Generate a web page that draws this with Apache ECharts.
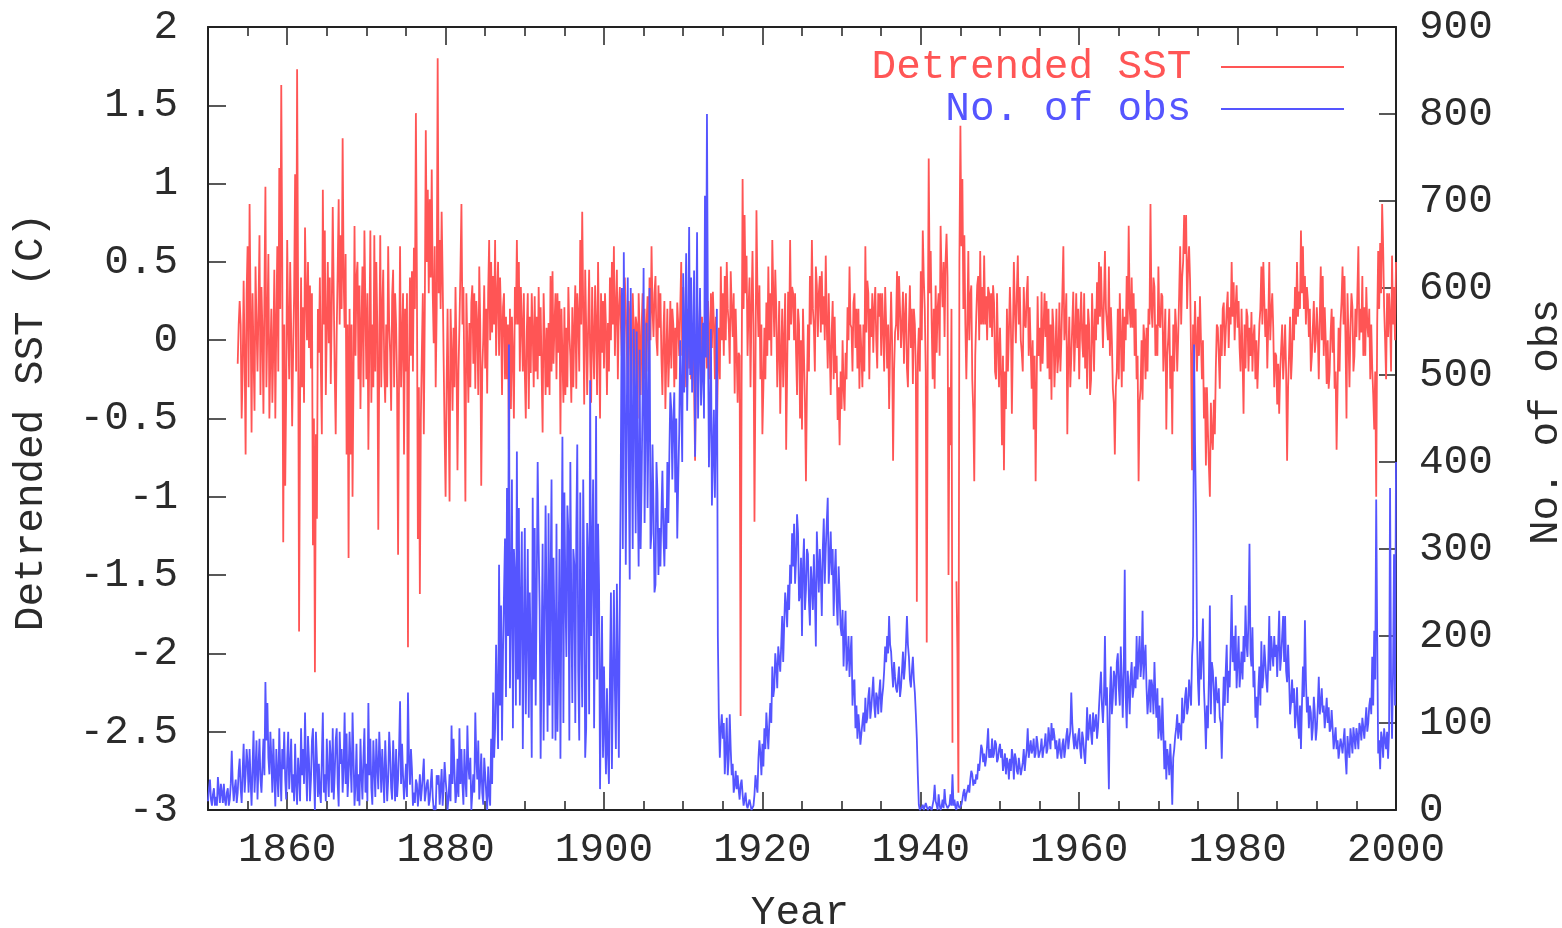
<!DOCTYPE html>
<html>
<head>
<meta charset="utf-8">
<script src="https://cdn.jsdelivr.net/npm/echarts@6/dist/echarts.min.js"></script>
<style>
html,body{margin:0;padding:0;background:#ffffff;}
#chart{width:1562px;height:928px;}
</style>
</head>
<body>
<div id="chart"></div>
<script>
// ---- data ----
// quarterly samples (at year, year+.25, ...) and the in-between samples
// (at year+.125, year+.375, ...) that carry the month-to-month noise.
const sstStartYear = 1853;
const obsStartYear = 1850;
const sampleStep = 0.25;

const sstValues = [
  0.0, null, null, -0.15,          // 1853
  0.25, -0.5, 0.38, -0.73,         // 1854
  0.6, 0.87, -0.59, -0.1,
  0.47, -0.2, 0.67, 0.34,
  -0.47, 0.98, 0.1, -0.5,
  0.2, -0.05, -0.5, 0.6,
  1.1, 1.63, -1.29, -0.93,         // 1859
  0.64, -0.25, 0.08, -0.08,        // 1860
  1.06, 1.73, -1.86, 0.4,
  0.21, 0.72, 0.0, -0.05,
  -0.18, -1.31, -2.12, -1.14,
  -0.08, -0.18, 0.96, 0.7,
  0.08, -0.02, -0.28, 0.85,        // 1865
  -0.21, 0.05, 0.9, 0.67,
  1.29, 0.08, -0.73, -1.39,
  -0.73, -1.0, 0.73, 0.4,
  -0.25, -0.44, 0.47, 0.7,
  -0.25, -0.7, 0.7, 0.1,           // 1870
  0.67, 0.5, -1.21, 0.67,
  0.2, -0.18, 0.1, 0.6,
  -0.08, 0.28, -0.3, 0.1,
  -1.37, 0.6, 0.0, -0.73,
  -0.2, -1.96, 0.4, 0.44,          // 1875
  0.59, 1.45, -1.27, -1.62,
  -0.08, -0.6, 1.34, 0.96,
  0.9, 1.09, -0.02, -0.3,
  1.8, 0.64, 0.82, -0.11,
  -1.0, 0.2, -1.03, -0.08,         // 1880
  0.08, 0.34, -0.83, 0.1,
  0.87, 0.34, -1.03, -0.05,
  0.11, 0.24, -0.15, -0.31,
  0.1, 0.47, -0.93, 0.0,
  -0.18, -0.34, 0.64, 0.5,         // 1885
  0.41, 0.64, 0.28, -0.1,
  0.15, 0.21, -0.25, -0.25,
  -0.77, -0.44, -0.11, 0.34,
  0.64, 0.5, 0.34, -0.2,
  -0.21, 0.05, -0.44, -0.21,       // 1890
  0.05, 0.28, 0.15, 0.34,
  0.21, -0.59, 0.0, 0.08,
  0.11, 0.41, 0.44, 0.1,
  -0.25, -0.08, -0.6, -0.1,
  0.21, 0.08, 0.34, -0.1,          // 1895
  0.21, 0.08, -0.31, 0.15,
  0.64, 0.82, -0.41, 0.08,
  0.08, -0.1, 0.34, -0.25,
  0.1, 0.5, -0.5, -0.08,
  -0.18, 0.08, 0.11, 0.4,          // 1900
  0.5, 0.6, 0.2, -0.25,
  0.34, -0.1, -0.25, 0.2,
  -0.31, 0.1, -0.25, 0.08,
  0.15, -0.5, 0.05, 0.08,
  -0.25, -0.31, 0.28, 0.4,         // 1905
  0.6, 0.02, 0.41, -0.1,
  0.08, -0.11, 0.05, -0.44,
  0.2, -0.08, -0.18, 0.1,
  0.08, 0.24, -0.1, 0.5,
  0.34, -0.05, 0.2, -0.18,         // 1910
  -0.25, 0.1, -0.77, 0.15,
  0.02, -0.25, -0.08, 0.1,
  -0.18, 0.08, 0.3, 0.31,
  -0.25, -0.6, 0.08, 0.47,
  0.3, 0.41, 0.5, 0.1,             // 1915
  0.44, 0.02, -0.34, -0.08,
  -0.08, -2.4, 1.03, 0.8,
  0.54, 0.2, -0.3, 0.57,
  -1.16, 0.83, 0.02, -0.25,
  -0.6, 0.08, 0.24, 0.47,          // 1920
  0.3, 0.64, 0.02, 0.2,
  -0.05, -0.47, 0.2, 0.0,
  -0.7, 0.31, 0.64, 0.34,
  0.0, -0.08, 0.2, -0.5,
  -0.57, -0.1, -0.9, 0.1,          // 1925
  0.41, 0.64, 0.08, 0.47,
  0.02, 0.41, 0.44, 0.28,
  0.54, -0.18, -0.05, 0.05,
  -0.25, -0.21, -0.51, -0.67,
  -0.44, -0.31, -0.08, 0.21,       // 1930
  0.47, 0.08, 0.24, -0.05,
  -0.18, -0.31, -0.08, 0.1,
  0.6, 0.38, -0.25, 0.02,
  -0.08, 0.34, -0.18, 0.15,
  -0.1, 0.08, 0.34, -0.18,         // 1935
  -0.44, 0.31, -0.77, 0.05,
  0.44, 0.41, -0.05, 0.31,
  0.15, -0.18, 0.1, -0.05,
  -0.28, 0.1, -1.67, 0.08,
  0.44, 0.7, 0.2, -1.93,           // 1940
  1.16, 0.57, -0.25, -0.31,
  -0.08, 0.3, 0.73, 0.21,
  0.02, 0.68, -1.5, -0.67,
  -2.57, null, -1.54, -2.89,
  1.37, 1.03, 0.67, -0.25,         // 1945
  0.57, 0.28, -0.25, -0.9,
  0.15, 0.41, 0.57, 0.34,
  0.54, 0.28, 0.34, 0.08,
  0.02, 0.24, -0.25, -0.05,
  0.08, -0.67, -0.83, -0.44,       // 1950
  -0.2, 0.34, -0.47, 0.5,
  -0.02, 0.54, 0.34, -0.08,
  0.34, 0.08, 0.41, 0.21,
  -0.31, -0.57, -0.9, 0.28,
  0.08, 0.31, 0.08, 0.02,          // 1955
  -0.18, -0.25, -0.38, 0.08,
  -0.08, -0.21, 0.24, 0.0,
  0.6, 0.1, -0.6, 0.15,
  -0.11, 0.31, 0.02, -0.05,
  -0.25, 0.31, -0.11, -0.18,       // 1960
  -0.31, 0.1, -0.25, 0.05,
  0.2, 0.37, 0.5, 0.47,
  -0.05, 0.57, 0.1, 0.47,
  0.21, -0.31, -0.73, -0.2,
  -0.25, 0.02, 0.2, 0.15,          // 1965
  0.41, 0.73, 0.08, 0.08,
  -0.1, -0.25, -0.9, -0.31,
  -0.38, 0.0, 0.08, 0.2,
  0.87, 0.08, 0.34, 0.1,
  0.47, 0.08, 0.28, -0.02,         // 1970
  -0.57, 0.02, -0.31, -0.6,
  -0.2, 0.08, 0.02, 0.6,
  0.4, 0.8, 0.8, 0.47,
  0.38, -0.83, -0.08, -0.02,
  0.15, 0.28, -0.25, -0.5,         // 1975
  -0.8, -0.57, -1.0, -0.62,
  -0.38, -0.18, 0.08, -0.31,
  -0.1, 0.24, 0.05, 0.31,
  0.21, 0.5, 0.37, 0.21,
  0.08, -0.05, 0.2, -0.47,         // 1980
  -0.18, 0.15, 0.08, 0.18,
  0.02, -0.25, -0.31, 0.1,
  0.47, 0.5, 0.02, -0.18,
  0.5, 0.18, 0.08, -0.08,
  -0.41, -0.47, -0.05, -0.25,      // 1985
  0.1, -0.77, -0.08, -0.25,
  0.2, 0.34, 0.5, 0.31,
  0.7, 0.6, 0.41, 0.34,
  0.02, -0.2, 0.08, -0.08,
  0.21, -0.25, 0.47, 0.41,         // 1990
  0.21, -0.28, -0.31, 0.05,
  -0.08, -0.31, -0.7, 0.08,
  0.11, 0.47, 0.41, -0.5,
  0.02, 0.08, 0.21, -0.1,
  0.02, 0.6, 0.2, 0.41,            // 1995
  0.21, 0.34, 0.02, -0.25,
  -0.18, -0.57, -1.0, 0.57,
  0.62, 0.87, 0.21, -0.25,
  0.02, 0.15, 0.54, 0.34,
  0.5                              // 2000
];

const sstBetween = [
  null, null, null, 0.1,           // 1853
  0.1, -0.2, -0.1, 0.3,
  -0.3, 0.2, 0.3, -0.45,
  0.1, 0.2, -0.35, 0.05,
  0.3, -0.3, 0.55, -0.1,
  -0.4, 0.45, 0.1, -0.2,
  0.2, 0.5, 0.1, -0.3,
  0.1, 0.5, -0.55, 0.3,            // 1860
  -0.2, 0.3, -0.4, -0.3,
  -0.4, 0.3, 0.5, 0.35,
  0.3, -0.5, -0.6, 0.2,
  0.4, -0.6, 0.1, -0.35,
  0.5, 0.4, 0.2, 0.3,              // 1865
  -0.6, 0.45, 0.1, 0.2,
  0.4, 0.55, 0.1, 0.2,
  0.1, -0.2, -0.1, 0.5,
  0.35, 0.1, -0.3, 0.2,
  0.3, 0.0, -0.4, -0.3,            // 1870
  -0.2, 0.1, -0.1, -0.3,
  0.45, -0.4, -0.3, 0.1,
  -0.45, 0.45, 0.3, -0.3,
  -0.2, -0.3, 0.3, 0.2,
  0.3, -0.2, -0.1, -0.2,           // 1875
  0.2, 0.4, -0.3, -0.5,
  0.3, 0.2, 0.5, 0.3,
  0.4, 0.3, 0.6, 0.2,
  0.3, 0.2, 0.4, -0.6,
  -0.3, -0.4, 0.2, -0.45,          // 1880
  -0.3, -0.1, -0.2, 0.45,
  0.1, -0.3, 0.3, -0.4,
  -0.3, 0.35, 0.3, 0.25,
  -0.35, 0.1, -0.2, 0.35,
  0.2, 0.3, 0.0, 0.05,             // 1885
  0.1, -0.1, 0.5, 0.4,
  -0.35, 0.3, 0.15, 0.1,
  0.2, 0.15, -0.5, 0.1,
  0.1, -0.2, 0.1, 0.3,
  -0.5, 0.3, 0.15, 0.3,            // 1890
  -0.3, -0.2, -0.25, -0.1,
  -0.2, 0.3, -0.35, -0.3,
  -0.35, -0.2, -0.15, 0.3,
  0.3, 0.25, 0.2, -0.4,
  -0.35, -0.3, 0.05, -0.4,         // 1895
  -0.3, 0.35, 0.3, -0.2,
  0.1, 0.2, 0.45, -0.35,
  0.45, -0.4, 0.0, 0.35,
  -0.35, 0.0, 0.3, 0.25,
  0.3, -0.35, -0.2, 0.0,           // 1900
  0.1, -0.1, 0.45, 0.2,
  0.1, 0.3, 0.4, -0.05,
  0.25, -0.4, 0.3, -0.3,
  0.1, 0.3, -0.35, 0.3,
  0.2, 0.1, -0.2, 0.0,             // 1905
  0.2, 0.3, 0.0, 0.35,
  0.3, -0.35, 0.25, -0.1,
  -0.3, 0.25, 0.2, -0.3,
  -0.25, 0.1, 0.2, -0.1,
  0.0, -0.3, 0.15, 0.2,            // 1910
  -0.05, -0.3, -0.1, -0.3,
  0.25, 0.15, -0.35, 0.3,
  0.25, -0.25, -0.05, 0.1,
  0.15, -0.2, -0.25, 0.0,
  -0.1, 0.0, 0.2, -0.15,           // 1915
  0.2, 0.3, 0.2, -0.4,
  -0.1, -0.3, 0.2, 0.3,
  -0.1, 0.4, 0.2, 0.1,
  -0.2, 0.3, 0.35, 0.1,
  -0.3, -0.25, -0.1, 0.0,          // 1920
  -0.1, 0.3, 0.45, -0.3,
  0.25, -0.1, -0.3, 0.3,
  -0.2, 0.0, 0.1, 0.3,
  0.3, -0.35, 0.1, 0.0,
  0.2, -0.4, -0.3, -0.2,           // 1925
  0.1, 0.2, -0.2, 0.35,
  0.3, 0.05, 0.1, 0.0,
  0.1, 0.3, -0.35, 0.25,
  0.15, -0.1, -0.3, -0.2,
  0.0, -0.45, -0.25, 0.0,          // 1930
  0.1, -0.2, 0.3, 0.2,
  0.2, 0.1, -0.3, -0.2,
  0.05, 0.3, 0.2, 0.3,
  0.2, 0.0, 0.3, 0.3,
  0.3, -0.2, 0.1, 0.1,             // 1935
  -0.05, 0.0, -0.2, 0.1,
  0.0, 0.2, 0.1, -0.15,
  0.3, -0.3, 0.35, 0.2,
  0.2, -0.2, -0.1, -0.2,
  0.0, 0.4, -0.2, -0.1,            // 1940
  0.3, 0.1, 0.2, 0.35,
  0.2, -0.1, 0.4, 0.5,
  0.5, 0.4, -0.3, 0.2,
  null, null, -2.0, 0.5,
  0.6, 0.2, 0.1, 0.1,              // 1945
  0.0, 0.35, -0.45, -0.1,
  0.35, 0.0, 0.1, 0.1,
  0.1, 0.0, 0.3, 0.3,
  0.35, -0.2, 0.3, -0.3,
  -0.2, -0.1, -0.2, 0.2,           // 1950
  0.05, 0.1, 0.0, 0.2,
  0.3, 0.1, 0.0, -0.2,
  0.1, 0.3, -0.1, -0.05,
  0.0, -0.1, -0.3, -0.1,
  -0.2, -0.15, 0.3, 0.25,          // 1955
  0.2, 0.1, 0.2, -0.3,
  0.2, -0.1, -0.2, 0.3,
  0.0, 0.3, -0.1, -0.3,
  0.1, -0.2, 0.3, 0.2,
  0.1, 0.0, 0.3, 0.1,              // 1960
  0.2, -0.35, 0.3, -0.2,
  0.0, 0.1, 0.15, 0.2,
  0.25, 0.2, 0.0, -0.1,
  0.0, -0.4, -0.3, 0.2,
  0.3, -0.3, -0.2, 0.0,            // 1965
  0.1, 0.2, 0.4, 0.3,
  0.2, -0.1, -0.4, 0.0,
  0.1, -0.25, -0.2, 0.1,
  0.2, 0.4, -0.1, -0.1,
  0.1, 0.3, -0.2, 0.2,             // 1970
  -0.1, 0.2, -0.1, 0.1,
  0.2, -0.2, 0.3, 0.1,
  0.5, 0.55, 0.2, 0.6,
  -0.1, 0.1, 0.25, -0.2,
  -0.1, 0.0, 0.0, -0.3,            // 1975
  -0.3, -0.8, -0.4, -0.7,
  -0.6, 0.1, -0.1, 0.1,
  0.2, -0.1, 0.2, -0.05,
  0.1, 0.15, 0.0, 0.35,
  0.25, -0.2, -0.1, 0.1,           // 1980
  0.2, -0.2, -0.1, -0.2,
  0.1, 0.0, -0.1, 0.2,
  0.1, 0.25, 0.2, 0.1,
  0.0, 0.3, -0.3, -0.1,
  -0.15, -0.2, 0.1, -0.1,          // 1985
  -0.2, -0.3, 0.15, -0.1,
  0.0, 0.1, 0.15, 0.2,
  0.3, 0.2, 0.1, 0.25,
  0.2, -0.1, 0.25, 0.0,
  0.05, 0.15, 0.0, -0.1,           // 1990
  0.0, 0.0, -0.2, 0.2,
  0.15, -0.2, -0.3, -0.2,
  0.25, 0.1, 0.0, 0.3,
  -0.3, 0.3, -0.2, 0.2,
  0.3, 0.0, 0.05, -0.1,            // 1995
  -0.1, 0.1, 0.2, 0.1,
  -0.35, -0.2, 0.1, 0.2,
  0.3, 0.6, 0.0, 0.3,
  0.3, -0.2, 0.1, 0.0              // 1999
];

const obsValues = [
  10, 35, 5, 25,                   // 1850
  15, 38, 8, 20,
  30, 5, 25, 12,
  68, 10, 35, 20,
  59, 8, 76, 41,
  53, 70, 5, 91,                   // 1855
  47, 12, 82, 20,
  82, 147, 123, 41,
  59, 82, 4, 41,
  94, 10, 47, 35,
  59, 24, 82, 41,                  // 1860
  76, 6, 41, 94,
  70, 112, 10, 59,
  35, 94, 0, 59,
  53, 8, 112, 41,
  82, 15, 59, 94,                  // 1865
  41, 94, 4, 53,
  20, 112, 88, 41,
  53, 112, 5, 76,
  41, 82, 12, 94,
  53, 123, 82, 6,                  // 1870
  47, 82, 24, 59,
  70, 8, 47, 35,
  65, 12, 47, 70,
  35, 125, 76, 12,
  53, 135, 29, 47,                 // 1875
  20, 35, 4, 41,
  24, 59, 8, 35,
  12, 47, 0, 0,
  29, 6, 47, 24,
  35, 0, 41, 97,                   // 1880
  82, 8, 59, 94,
  70, 6, 35, 97,
  35, 0, 41, 112,
  35, 12, 65, 6,
  41, 0, 18, 82,                   // 1885
  135, 94, 129, 282,
  235, 182, 312, 370,
  535, 230, 94, 270,
  412, 347, 235, 70,
  324, 206, 106, 176,              // 1890
  359, 324, 247, 306,
  59, 306, 212, 229,
  341, 259, 82, 206,
  329, 182, 59, 429,
  365, 176, 318, 400,              // 1895
  123, 282, 318, 159,
  365, 118, 259, 94,
  288, 494, 288, 94,
  453, 329, 24, 223,
  165, 41, 65, 153,                // 1900
  47, 253, 70, 165,
  247, 600, 641, 282,
  612, 265, 435, 553,
  318, 376, 529, 376,
  623, 447, 347, 600,              // 1905
  318, 347, 259, 365,
  324, 341, 318, 347,
  400, 406, 459, 447,
  365, 312, 435, 476,
  617, 553, 459, 670,              // 1910
  612, 541, 406, 664,
  529, 465, 560, 706,
  800, 394, 553, 406,
  359, 576, 106, 94,
  82, 41, 106, 59,                 // 1915
  70, 53, 29, 24,
  24, 29, 18, 12,
  6, 0, 6, 0,
  18, 29, 59, 65,
  76, 94, 112, 70,                 // 1920
  123, 165, 140, 165,
  188, 159, 223, 212,
  235, 259, 282, 318,
  329, 288, 318, 247,
  200, 312, 253, 294,              // 1925
  212, 259, 294, 188,
  282, 300, 223, 335,
  300, 359, 288, 270,
  223, 300, 212, 247,
  200, 165, 229, 176,              // 1930
  153, 200, 147, 94,
  82, 94, 88, 112,
  129, 106, 141, 118,
  153, 106, 129, 135,
  112, 141, 188, 200,              // 1935
  223, 182, 141, 153,
  135, 165, 141, 182,
  165, 223, 176, 141,
  176, 135, 82, 6,
  0, 6, 0, 4,                      // 1940
  0, 6, 2, 29,
  6, 18, 0, 12,
  24, 6, 0, 18,
  41, 12, 0, 6,
  0, 12, 24, 18,                   // 1945
  29, 35, 41, 35,
  41, 53, 59, 70,
  65, 59, 94, 70,
  82, 65, 76, 59,
  76, 70, 53, 41,                  // 1950
  53, 59, 70, 35,
  59, 41, 59, 47,
  70, 59, 94, 70,
  65, 82, 65, 76,
  59, 82, 70, 88,                  // 1955
  70, 82, 100, 94,
  70, 59, 82, 59,
  82, 70, 94, 82,
  135, 82, 88, 70,
  94, 59, 82, 53,                  // 1960
  118, 82, 88, 112,
  100, 82, 118, 159,
  100, 200, 141, 24,
  165, 129, 153, 170,
  141, 188, 106, 276,              // 1965
  94, 141, 153, 129,
  165, 200, 176, 153,
  229, 176, 141, 129,
  112, 141, 170, 106,
  82, 94, 129, 47,                 // 1970
  35, 59, 76, 6,
  70, 94, 82, 94,
  129, 106, 141, 118,
  135, 176, 535, 341,
  147, 194, 182, 141,              // 1975
  70, 94, 235, 170,
  135, 153, 123, 106,
  59, 153, 159, 123,
  141, 247, 200, 212,
  170, 141, 182, 200,              // 1980
  235, 176, 306, 165,
  141, 106, 94, 165,
  194, 153, 170, 135,
  223, 200, 165, 176,
  153, 229, 176, 223,              // 1985
  223, 147, 153, 123,
  123, 94, 141, 82,
  70, 165, 218, 112,
  94, 112, 94, 112,
  94, 153, 123, 112,               // 1990
  94, 129, 118, 94,
  94, 82, 70, 59,
  82, 65, 94, 41,
  70, 94, 65, 82,
  94, 70, 94, 106,                 // 1995
  82, 118, 100, 129,
  176, 206, 357, 65,
  47, 82, 94, 70,
  59, 370, 82, 294,
  400                              // 2000
];

const obsBetween = [
  25, 12, 18, 5,                   // 1850
  5, 22, 30, 8,
  12, 20, 5, 30,
  30, 25, 8, 45,
  25, 45, 20, 70,
  20, 35, 50, 20,                  // 1855
  80, 50, 35, 50,
  40, 80, 60, 90,
  20, 40, 70, 15,
  45, 70, 90, 12,
  90, 50, 20, 10,                  // 1860
  30, 60, 10, 40,
  30, 50, 85, 10,
  80, 40, 90, 15,
  20, 60, 20, 10,
  40, 80, 20, 12,                  // 1865
  80, 30, 90, 70,
  50, 30, 15, 90,
  20, 60, 30, 10,
  5, 40, 60, 20,
  10, 40, 25, 80,                  // 1870
  15, 50, 90, 20,
  40, 80, 10, 90,
  25, 80, 10, 15,
  70, 30, 40, 30,
  15, 60, 70, 5,                   // 1875
  8, 30, 20, 10,
  40, 10, 30, 5,
  30, 15, 5, 40,
  40, 25, 5, 55,
  20, 15, 10, 30,                  // 1880
  45, 20, 15, 30,
  30, 70, 15, 50,
  60, 20, 20, 60,
  80, 35, 20, 60,
  20, 50, 5, 30,                   // 1885
  60, 190, 70, 120,
  80, 250, 130, 200,
  140, 380, 300, 120,
  150, 120, 320, 200,
  110, 300, 250, 60,               // 1890
  150, 120, 400, 230,
  180, 80, 350, 90,
  120, 380, 290, 80,
  90, 300, 250, 100,
  250, 350, 80, 230,               // 1895
  300, 100, 420, 80,
  200, 380, 60, 330,
  110, 200, 380, 250,
  150, 260, 140, 60,
  90, 140, 30, 250,                // 1900
  150, 140, 260, 60,
  400, 300, 500, 450,
  400, 600, 300, 480,
  550, 280, 300, 480,
  330, 560, 450, 300,              // 1905
  420, 250, 400, 270,
  280, 390, 280, 300,
  330, 480, 380, 480,
  450, 380, 540, 400,
  480, 640, 540, 500,              // 1910
  480, 620, 520, 450,
  600, 500, 450, 520,
  550, 450, 350, 460,
  440, 200, 60, 110,
  100, 70, 40, 110,                // 1915
  40, 20, 45, 40,
  12, 35, 5, 20,
  2, 12, 0, 5,
  40, 20, 80, 40,
  50, 70, 90, 100,                 // 1920
  100, 130, 180, 140,
  190, 190, 170, 250,
  210, 230, 260, 280,
  260, 340, 240, 290,
  280, 230, 300, 240,              // 1925
  280, 230, 250, 320,
  250, 270, 300, 260,
  330, 260, 320, 300,
  270, 240, 280, 210,
  230, 200, 160, 200,              // 1930
  180, 120, 150, 120,
  110, 75, 100, 90,
  100, 130, 105, 135,
  120, 135, 110, 150,
  130, 160, 170, 180,              // 1935
  190, 160, 170, 140,
  150, 130, 160, 150,
  190, 190, 150, 160,
  150, 110, 40, 0,
  3, 0, 8, 0,                      // 1940
  4, 0, 12, 10,
  0, 6, 4, 2,
  8, 2, 6, 5,
  5, 3, 10, 2,
  6, 20, 10, 22,                   // 1945
  20, 45, 28, 30,
  35, 45, 75, 55,
  50, 75, 60, 60,
  60, 80, 55, 70,
  60, 45, 65, 60,                  // 1950
  35, 45, 60, 65,
  45, 60, 40, 55,
  45, 70, 60, 80,
  70, 60, 85, 60,
  70, 60, 75, 65,                  // 1955
  95, 70, 80, 85,
  80, 70, 65, 75,
  60, 85, 70, 90,
  100, 70, 75, 85,
  70, 90, 65, 80,                  // 1960
  80, 110, 75, 90,
  110, 95, 140, 120,
  130, 120, 80, 130,
  110, 160, 120, 180,
  120, 150, 160, 130,              // 1965
  160, 110, 170, 140,
  140, 150, 200, 170,
  150, 190, 110, 150,
  150, 110, 130, 140,
  120, 80, 90, 80,                 // 1970
  70, 40, 50, 60,
  85, 110, 100, 80,
  100, 130, 110, 150,
  120, 200, 420, 200,
  120, 150, 220, 110,              // 1975
  120, 150, 110, 160,
  100, 130, 140, 100,
  110, 120, 190, 160,
  190, 170, 160, 140,
  200, 160, 150, 170,              // 1980
  190, 220, 180, 210,
  160, 130, 140, 120,
  140, 190, 150, 170,
  160, 180, 200, 190,
  190, 160, 200, 170,              // 1985
  160, 190, 110, 150,
  140, 110, 100, 120,
  120, 130, 150, 130,
  120, 80, 130, 80,
  120, 110, 140, 120,              // 1990
  110, 100, 90, 115,
  70, 95, 80, 70,
  75, 80, 60, 85,
  60, 80, 95, 70,
  85, 100, 80, 95,                 // 1995
  100, 90, 120, 110,
  120, 150, 200, 80,
  90, 60, 80, 90,
  90, 150, 160, 120                // 1999
];

const seriesNames = ['Detrended SST', 'No. of obs'];
const seriesColors = ['#ff5555', '#5555ff'];
const xMajorTicks = [1860, 1880, 1900, 1920, 1940, 1960, 1980, 2000];
const xRange = [1850, 2000];
const sstRange = [-3, 2];
const obsRange = [0, 900];
const axisTitles = { x: 'Year', yLeft: 'Detrended SST (C)', yRight: 'No. of obs' };

// ---- build ----
const FONT = 'Liberation Mono';
const FS = 41;
const INK = '#2b2b2b';

function interleave(start, main, between) {
  const out = [];
  main.forEach((v, i) => {
    const t = start + i * sampleStep;
    out.push([t, v]);
    if (i < between.length) out.push([t + sampleStep / 2, between[i]]);
  });
  return out;
}
const sstData = interleave(sstStartYear, sstValues, sstBetween);
const obsData = interleave(obsStartYear, obsValues, obsBetween);

const frameLine = { show: true, onZero: false, lineStyle: { color: '#222', width: 2 } };

function xAxisDef(pos, major, withLabels) {
  return {
    type: 'value', gridIndex: 0, position: pos,
    min: xRange[0], max: xRange[1],
    interval: major ? 10 : 5,
    axisLine: major ? frameLine : { show: false, onZero: false },
    axisTick: major
      ? { show: true, inside: true, length: 18, customValues: xMajorTicks, lineStyle: { color: '#222', width: 1.5 } }
      : { show: true, inside: true, length: 9, lineStyle: { color: '#222', width: 1.5 } },
    axisLabel: withLabels
      ? { show: true, customValues: xMajorTicks, margin: 20, fontFamily: FONT, fontSize: FS, color: INK,
          formatter: v => String(v) }
      : { show: false },
    splitLine: { show: false }
  };
}

const chart = echarts.init(document.getElementById('chart'), null, { renderer: 'canvas' });

chart.setOption({
  animation: false,
  backgroundColor: '#ffffff',
  grid: { left: 208, right: 166, top: 27, bottom: 118, containLabel: false },
  legend: {
    orient: 'vertical',
    right: 213, top: 41,
    align: 'right',
    icon: 'rect',
    itemWidth: 123, itemHeight: 2, itemGap: 0,
    selectedMode: false,
    textStyle: { fontFamily: FONT, fontSize: FS, lineHeight: 42 },
    formatter: name => name + ' ',
    data: seriesNames.map((n, i) => ({ name: n, textStyle: { color: seriesColors[i] } }))
  },
  xAxis: [
    xAxisDef('bottom', true, true),
    xAxisDef('bottom', false, false),
    xAxisDef('top', true, false),
    xAxisDef('top', false, false)
  ],
  yAxis: [
    {
      type: 'value', position: 'left',
      min: sstRange[0], max: sstRange[1], interval: 0.5,
      axisLine: frameLine,
      axisTick: { show: true, inside: true, length: 18, lineStyle: { color: '#222', width: 1.5 } },
      axisLabel: { margin: 30, fontFamily: FONT, fontSize: FS, color: INK, formatter: v => String(v) },
      splitLine: { show: false }
    },
    {
      type: 'value', position: 'right',
      min: obsRange[0], max: obsRange[1], interval: 100,
      axisLine: frameLine,
      axisTick: { show: true, inside: true, length: 17, lineStyle: { color: '#222', width: 1.5 } },
      axisLabel: { margin: 23, fontFamily: FONT, fontSize: FS, color: INK, formatter: v => String(v) },
      splitLine: { show: false }
    }
  ],
  graphic: [
    { type: 'text', x: 800, y: 913, style: { text: axisTitles.x, font: FS + 'px "' + FONT + '"', fill: INK, textAlign: 'center', textVerticalAlign: 'middle' } },
    { type: 'text', x: 31, y: 422, rotation: Math.PI / 2, style: { text: axisTitles.yLeft, font: FS + 'px "' + FONT + '"', fill: INK, textAlign: 'center', textVerticalAlign: 'middle' } },
    { type: 'text', x: 1546, y: 422, rotation: Math.PI / 2, style: { text: axisTitles.yRight, font: FS + 'px "' + FONT + '"', fill: INK, textAlign: 'center', textVerticalAlign: 'middle' } }
  ],
  series: [
    {
      name: seriesNames[0], type: 'line', xAxisIndex: 0, yAxisIndex: 0,
      data: sstData, showSymbol: false, connectNulls: false,
      lineStyle: { color: seriesColors[0], width: 1.8 }, itemStyle: { color: seriesColors[0] },
      z: 2
    },
    {
      name: seriesNames[1], type: 'line', xAxisIndex: 0, yAxisIndex: 1,
      data: obsData, showSymbol: false, connectNulls: false,
      lineStyle: { color: seriesColors[1], width: 1.8 }, itemStyle: { color: seriesColors[1] },
      z: 3
    }
  ]
});
</script>
</body>
</html>
